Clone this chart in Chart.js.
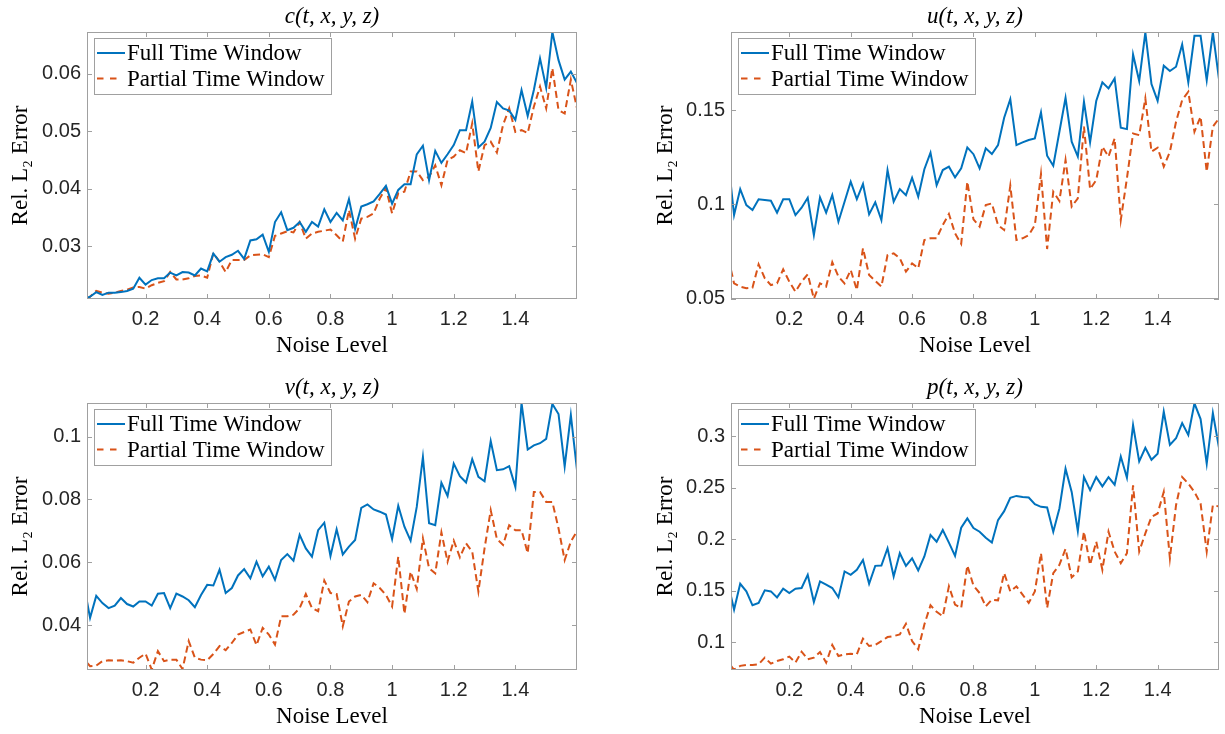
<!DOCTYPE html>
<html>
<head>
<meta charset="utf-8">
<script src="https://cdn.jsdelivr.net/npm/chart.js@4.4.0/dist/chart.umd.min.js"></script>
<style>
  body { margin: 0; background: #fff; width: 1225px; height: 734px; overflow: hidden; position: relative; }
  .panel { position: absolute; width: 600px; height: 367px; }
</style>
</head>
<body>
<div class="panel" style="left:0;top:0;width:600px"><canvas id="c1"></canvas></div>
<div class="panel" style="left:645px;top:0;width:580px"><canvas id="c2"></canvas></div>
<div class="panel" style="left:0;top:371px;width:600px"><canvas id="c3"></canvas></div>
<div class="panel" style="left:645px;top:371px;width:580px"><canvas id="c4"></canvas></div>
<script>
// noise levels on the x axis
const noiseLevels = [0.01, 0.02, 0.04, 0.06, 0.08, 0.10, 0.12, 0.14, 0.16, 0.18,
  0.20, 0.22, 0.24, 0.26, 0.28, 0.30, 0.32, 0.34, 0.36, 0.38,
  0.40, 0.42, 0.44, 0.46, 0.48, 0.50, 0.52, 0.54, 0.56, 0.58,
  0.60, 0.62, 0.64, 0.66, 0.68, 0.70, 0.72, 0.74, 0.76, 0.78,
  0.80, 0.82, 0.84, 0.86, 0.88, 0.90, 0.92, 0.94, 0.96, 0.98,
  1.00, 1.02, 1.04, 1.06, 1.08, 1.10, 1.12, 1.14, 1.16, 1.18,
  1.20, 1.22, 1.24, 1.26, 1.28, 1.30, 1.32, 1.34, 1.36, 1.38,
  1.40, 1.42, 1.44, 1.46, 1.48, 1.50, 1.52, 1.54, 1.56, 1.58, 1.60];
const xTicks = [0.2, 0.4, 0.6, 0.8, 1.0, 1.2, 1.4];

// c(t,x,y,z)
const cFull = [0.0210, 0.0212, 0.0220, 0.0215, 0.0219, 0.0219, 0.0220, 0.0222, 0.0226, 0.0245,
  0.0233, 0.0241, 0.0244, 0.0244, 0.0254, 0.0249, 0.0255, 0.0254, 0.0249, 0.0261,
  0.0256, 0.0287, 0.0273, 0.0281, 0.0285, 0.0292, 0.0278, 0.0310, 0.0312, 0.0320,
  0.0290, 0.0342, 0.0359, 0.0328, 0.0332, 0.0342, 0.0325, 0.0342, 0.0334, 0.0364,
  0.0342, 0.0358, 0.0345, 0.0382, 0.0330, 0.0369, 0.0373, 0.0378, 0.0391, 0.0405,
  0.0374, 0.0398, 0.0408, 0.0408, 0.0460, 0.0475, 0.0415, 0.0466, 0.0445, 0.0460,
  0.0476, 0.0502, 0.0502, 0.0552, 0.0472, 0.0482, 0.0506, 0.0551, 0.0540, 0.0536,
  0.0520, 0.0572, 0.0527, 0.0572, 0.0627, 0.0576, 0.0673, 0.0624, 0.0590, 0.0604, 0.0584];
const cPartial = [0.0208, 0.0212, 0.0222, 0.0219, 0.0217, 0.0219, 0.0222, 0.0224, 0.0228, 0.0229,
  0.0226, 0.0232, 0.0236, 0.0239, 0.0255, 0.0242, 0.0242, 0.0244, 0.0248, 0.0249,
  0.0245, 0.0288, 0.0273, 0.0255, 0.0276, 0.0276, 0.0276, 0.0284, 0.0285, 0.0286,
  0.0281, 0.0318, 0.0322, 0.0326, 0.0324, 0.0342, 0.0313, 0.0322, 0.0325, 0.0327,
  0.0329, 0.0319, 0.0308, 0.0363, 0.0313, 0.0348, 0.0351, 0.0357, 0.0383, 0.0401,
  0.0357, 0.0392, 0.0395, 0.0430, 0.0430, 0.0415, 0.0421, 0.0441, 0.0406, 0.0450,
  0.0456, 0.0467, 0.0462, 0.0514, 0.0430, 0.0476, 0.0482, 0.0463, 0.0511, 0.0540,
  0.0499, 0.0502, 0.0497, 0.0543, 0.0578, 0.0540, 0.0610, 0.0537, 0.0531, 0.0590, 0.0540];
const cTicks = [0.03, 0.04, 0.05, 0.06];

// u(t,x,y,z)
const uFull = [0.1097, 0.0943, 0.1081, 0.0996, 0.0970, 0.1027, 0.1023, 0.1019, 0.0956, 0.1027,
  0.1027, 0.0943, 0.0982, 0.1035, 0.0837, 0.1037, 0.0956, 0.1049, 0.0908, 0.1014,
  0.1120, 0.1028, 0.1108, 0.0947, 0.1011, 0.0917, 0.1182, 0.1014, 0.1081, 0.1049,
  0.1141, 0.1041, 0.1186, 0.1274, 0.1102, 0.1182, 0.1200, 0.1143, 0.1191, 0.1302,
  0.1266, 0.1191, 0.1297, 0.1267, 0.1314, 0.1459, 0.1558, 0.1314, 0.1329, 0.1341,
  0.1350, 0.1488, 0.1258, 0.1205, 0.1385, 0.1565, 0.1332, 0.1253, 0.1544, 0.1329,
  0.1548, 0.1647, 0.1615, 0.1668, 0.1406, 0.1399, 0.1795, 0.1654, 0.1912, 0.1638,
  0.1549, 0.1735, 0.1707, 0.1730, 0.1848, 0.1647, 0.1894, 0.1894, 0.1659, 0.1912, 0.1663];
const uPartial = [0.0652, 0.0581, 0.0564, 0.0555, 0.0558, 0.0682, 0.0608, 0.0572, 0.0581, 0.0655,
  0.0590, 0.0537, 0.0590, 0.0629, 0.0500, 0.0581, 0.0564, 0.0693, 0.0617, 0.0581,
  0.0652, 0.0546, 0.0767, 0.0625, 0.0594, 0.0564, 0.0731, 0.0740, 0.0714, 0.0643,
  0.0687, 0.0661, 0.0811, 0.0820, 0.0820, 0.0890, 0.0949, 0.0846, 0.0790, 0.1120,
  0.0920, 0.0882, 0.0996, 0.1005, 0.0890, 0.0864, 0.1099, 0.0811, 0.0820, 0.0837,
  0.0890, 0.1161, 0.0763, 0.1067, 0.1018, 0.1235, 0.0988, 0.1032, 0.1412, 0.1081,
  0.1129, 0.1306, 0.1253, 0.1350, 0.0917, 0.1138, 0.1376, 0.1367, 0.1562, 0.1279,
  0.1300, 0.1200, 0.1279, 0.1438, 0.1553, 0.1597, 0.1385, 0.1465, 0.1173, 0.1412, 0.1456];
const uTicks = [0.05, 0.1, 0.15];

// v(t,x,y,z)
const vFull = [0.0475, 0.0423, 0.0493, 0.0470, 0.0454, 0.0462, 0.0486, 0.0467, 0.0459, 0.0475,
  0.0475, 0.0462, 0.0500, 0.0502, 0.0454, 0.0500, 0.0491, 0.0479, 0.0457, 0.0496,
  0.0528, 0.0526, 0.0576, 0.0502, 0.0518, 0.0558, 0.0578, 0.0549, 0.0602, 0.0555,
  0.0586, 0.0544, 0.0607, 0.0626, 0.0605, 0.0687, 0.0644, 0.0618, 0.0702, 0.0726,
  0.0620, 0.0705, 0.0625, 0.0650, 0.0671, 0.0773, 0.0784, 0.0768, 0.0761, 0.0752,
  0.0674, 0.0780, 0.0713, 0.0669, 0.0776, 0.0935, 0.0724, 0.0718, 0.0853, 0.0811,
  0.0914, 0.0874, 0.0854, 0.0928, 0.0872, 0.0858, 0.0986, 0.0893, 0.0896, 0.0906,
  0.0840, 0.1107, 0.0959, 0.0972, 0.0979, 0.0993, 0.1104, 0.1072, 0.0905, 0.1069, 0.0893];
const vPartial = [0.0280, 0.0269, 0.0271, 0.0285, 0.0288, 0.0287, 0.0288, 0.0285, 0.0280, 0.0296,
  0.0309, 0.0258, 0.0317, 0.0285, 0.0290, 0.0290, 0.0260, 0.0349, 0.0296, 0.0290,
  0.0288, 0.0308, 0.0333, 0.0320, 0.0343, 0.0370, 0.0378, 0.0386, 0.0336, 0.0391,
  0.0370, 0.0338, 0.0428, 0.0428, 0.0433, 0.0454, 0.0499, 0.0454, 0.0444, 0.0542,
  0.0502, 0.0499, 0.0396, 0.0475, 0.0491, 0.0496, 0.0473, 0.0533, 0.0518, 0.0496,
  0.0459, 0.0618, 0.0436, 0.0570, 0.0515, 0.0676, 0.0581, 0.0565, 0.0695, 0.0602,
  0.0669, 0.0616, 0.0660, 0.0634, 0.0507, 0.0644, 0.0766, 0.0674, 0.0655, 0.0718,
  0.0702, 0.0702, 0.0629, 0.0824, 0.0824, 0.0792, 0.0792, 0.0708, 0.0607, 0.0666, 0.0699];
const vTicks = [0.04, 0.06, 0.08, 0.1];

// p(t,x,y,z)
const pFull = [0.1446, 0.1317, 0.1568, 0.1494, 0.1359, 0.1382, 0.1504, 0.1494, 0.1436, 0.1520,
  0.1478, 0.1520, 0.1527, 0.1655, 0.1391, 0.1591, 0.1559, 0.1527, 0.1436, 0.1688,
  0.1655, 0.1704, 0.1800, 0.1568, 0.1742, 0.1746, 0.1913, 0.1639, 0.1865, 0.1742,
  0.1816, 0.1697, 0.1833, 0.2042, 0.1977, 0.2090, 0.1968, 0.1839, 0.2113, 0.2203,
  0.2110, 0.2074, 0.2016, 0.1968, 0.2187, 0.2274, 0.2403, 0.2422, 0.2412, 0.2406,
  0.2341, 0.2316, 0.2309, 0.2074, 0.2300, 0.2686, 0.2461, 0.2081, 0.2605, 0.2477,
  0.2605, 0.2515, 0.2605, 0.2531, 0.2805, 0.2599, 0.3111, 0.2757, 0.2889, 0.2773,
  0.2831, 0.3240, 0.2918, 0.2982, 0.3130, 0.3014, 0.3322, 0.3169, 0.2734, 0.3227, 0.2889];
const pPartial = [0.0770, 0.0732, 0.0770, 0.0779, 0.0779, 0.0786, 0.0850, 0.0792, 0.0818, 0.0834,
  0.0860, 0.0802, 0.0908, 0.0834, 0.0850, 0.0905, 0.0802, 0.0973, 0.0866, 0.0882,
  0.0889, 0.0882, 0.1034, 0.0963, 0.0973, 0.1011, 0.1050, 0.1060, 0.1076, 0.1179,
  0.1011, 0.0931, 0.1172, 0.1359, 0.1295, 0.1253, 0.1543, 0.1366, 0.1333, 0.1746,
  0.1550, 0.1478, 0.1349, 0.1414, 0.1407, 0.1672, 0.1494, 0.1543, 0.1462, 0.1382,
  0.1494, 0.1865, 0.1333, 0.1672, 0.1752, 0.1907, 0.1630, 0.1688, 0.2074, 0.1752,
  0.1977, 0.1704, 0.2074, 0.1881, 0.1768, 0.1865, 0.2525, 0.1881, 0.2058, 0.2219,
  0.2251, 0.2461, 0.1816, 0.2332, 0.2605, 0.2541, 0.2461, 0.2348, 0.1881, 0.2332, 0.2320];
const pTicks = [0.1, 0.15, 0.2, 0.25, 0.3];

const BLUE = '#0072BD', ORANGE = '#D95319', AXIS = '#a0a0a0';
const SERIF = '"Liberation Serif", "Times New Roman", serif';
const SANS = '"Liberation Sans", Arial, sans-serif';

// box round the plot with inward tick marks, like matlab's "box on"
const axesBox = {
  id: 'axesBox',
  afterDatasetsDraw(chart) {
    const {ctx, chartArea: a, scales} = chart;
    ctx.save();
    ctx.strokeStyle = AXIS;
    ctx.lineWidth = 1;
    ctx.strokeRect(a.left + 0.5, a.top + 0.5, a.width - 1, a.height - 1);
    ctx.beginPath();
    scales.x.ticks.forEach(t => {
      const px = Math.round(scales.x.getPixelForValue(t.value)) + 0.5;
      ctx.moveTo(px, a.bottom); ctx.lineTo(px, a.bottom - 5);
      ctx.moveTo(px, a.top); ctx.lineTo(px, a.top + 5);
    });
    scales.y.ticks.forEach(t => {
      const py = Math.round(scales.y.getPixelForValue(t.value)) + 0.5;
      ctx.moveTo(a.left, py); ctx.lineTo(a.left + 5, py);
      ctx.moveTo(a.right, py); ctx.lineTo(a.right - 5, py);
    });
    ctx.stroke();
    ctx.restore();
  }
};

// legend box in the top left corner of the plot
const boxLegend = {
  id: 'boxLegend',
  afterDraw(chart) {
    const {ctx, chartArea} = chart;
    const x0 = Math.round(chartArea.left) + 7, y0 = Math.round(chartArea.top) + 6;
    const sets = chart.data.datasets;
    ctx.save();
    ctx.font = '23px ' + SERIF;
    const w = Math.round(33 + Math.max(...sets.map(d => ctx.measureText(d.label).width)) + 6);
    const h = 56;
    ctx.fillStyle = '#fff';
    ctx.fillRect(x0, y0, w, h);
    ctx.strokeStyle = AXIS;
    ctx.lineWidth = 1;
    ctx.strokeRect(x0 + 0.5, y0 + 0.5, w, h);
    sets.forEach((d, i) => {
      const yy = y0 + 15 + i * 25.6;
      ctx.strokeStyle = d.borderColor;
      ctx.lineWidth = d.borderWidth;
      ctx.setLineDash(d.borderDash ? [6.5, 6.5] : []);
      ctx.beginPath();
      ctx.moveTo(x0 + 3, yy);
      ctx.lineTo(x0 + (d.borderDash ? 29 : 31), yy);
      ctx.stroke();
      ctx.setLineDash([]);
      ctx.fillStyle = '#000';
      ctx.textBaseline = 'middle';
      ctx.fillText(d.label, x0 + 33, yy + 1);
    });
    ctx.restore();
  }
};

function makePanel(id, title, full, partial, yMin, yMax, yTicks, yWidth, padRight) {
  const pts = arr => arr.map((y, i) => ({x: noiseLevels[i], y: y}));
  return new Chart(document.getElementById(id), {
    type: 'line',
    data: {
      datasets: [
        {label: 'Full Time Window', data: pts(full), borderColor: BLUE, borderWidth: 2,
          pointRadius: 0, tension: 0, fill: false},
        {label: 'Partial Time Window', data: pts(partial), borderColor: ORANGE, borderWidth: 2,
          borderDash: [7, 4], pointRadius: 0, tension: 0, fill: false}
      ]
    },
    options: {
      responsive: true,
      maintainAspectRatio: false,
      animation: false,
      devicePixelRatio: 1,
      layout: {padding: {left: 0, right: padRight, top: 0, bottom: 0}},
      plugins: {
        legend: {display: false},
        tooltip: {enabled: false},
        title: {
          display: true, text: title, fullSize: false, color: '#000',
          font: {family: SERIF, size: 23, style: 'italic', weight: 'normal', lineHeight: 1.2},
          padding: {top: 3, bottom: 1.4}
        }
      },
      scales: {
        x: {
          type: 'linear', min: 0.01, max: 1.6,
          afterBuildTicks: s => { s.ticks = xTicks.map(v => ({value: v})); },
          afterFit: s => { s.height = 68; },
          grid: {display: false, drawTicks: false},
          border: {display: false},
          ticks: {
            color: '#262626', padding: 8, maxRotation: 0,
            font: {family: SANS, size: 20},
            callback: v => String(+v.toFixed(2))
          },
          title: {
            display: true, text: 'Noise Level', color: '#000',
            font: {family: SERIF, size: 23, lineHeight: 1.2},
            padding: {top: 0, bottom: 7}
          }
        },
        y: {
          type: 'linear', min: yMin, max: yMax,
          afterBuildTicks: s => { s.ticks = yTicks.map(v => ({value: v})); },
          afterFit: s => { s.width = yWidth; },
          grid: {display: false, drawTicks: false},
          border: {display: false},
          ticks: {
            color: '#262626', padding: 6,
            font: {family: SANS, size: 20},
            callback: v => String(+v.toFixed(3))
          },
          title: {
            display: true, text: 'Rel. L\u2082 Error', color: '#000',
            font: {family: SERIF, size: 23, lineHeight: 1.2},
            padding: {top: 7, bottom: 0}
          }
        }
      }
    },
    plugins: [axesBox, boxLegend]
  });
}

makePanel('c1', 'c(t, x, y, z)', cFull, cPartial, 0.0208, 0.0673, cTicks, 87, 23);
makePanel('c2', 'u(t, x, y, z)', uFull, uPartial, 0.0498, 0.1914, uTicks, 86, 6);
makePanel('c3', 'v(t, x, y, z)', vFull, vPartial, 0.0257, 0.1107, vTicks, 87, 23);
makePanel('c4', 'p(t, x, y, z)', pFull, pPartial, 0.073, 0.3325, pTicks, 86, 6);
</script>
</body>
</html>
